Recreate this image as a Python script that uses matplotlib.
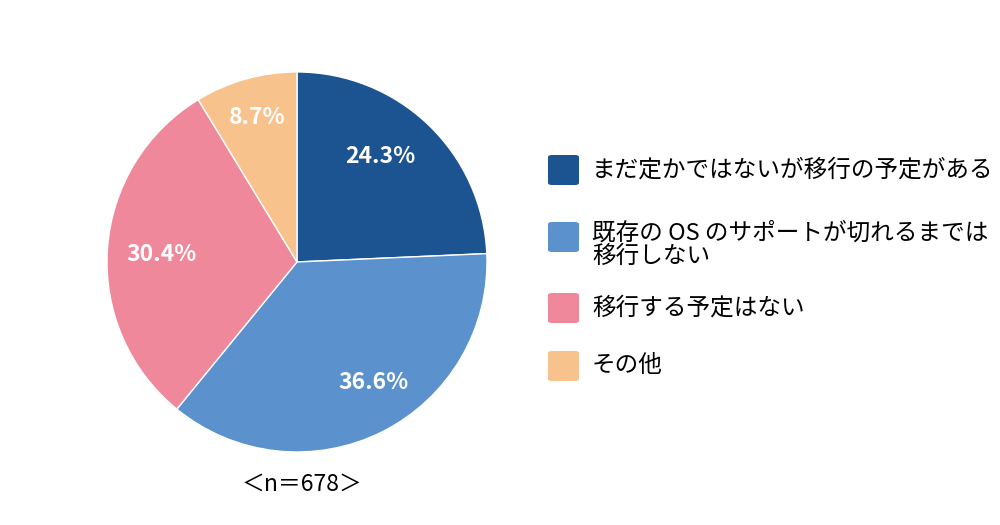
import matplotlib
matplotlib.use("Agg")
import matplotlib.pyplot as plt
from matplotlib.patches import FancyBboxPatch

plt.rcParams['font.family'] = ['Noto Sans CJK JP', 'DejaVu Sans']

labels = [
    "まだ定かではないが移行の予定がある",
    "既存の OS のサポートが切れるまでは\n移行しない",
    "移行する予定はない",
    "その他",
]
shares = [24.3, 36.6, 30.4, 8.7]
colors = ["#1B5490", "#5B91CC", "#F0889B", "#F8C28D"]
n_label = "＜n＝678＞"

# where the percentage labels sit inside each wedge (unit-radius coords)
pct_pos = [(0.437, 0.553), (0.40, -0.632), (-0.711, 0.037), (-0.21, 0.758)]

fig = plt.figure(figsize=(10, 5.25), dpi=100)
ax = fig.add_axes([0.107, 0.139, 0.38, 0.724])

wedges, texts, autotexts = ax.pie(
    shares, colors=colors, startangle=90, counterclock=False,
    autopct="%.1f%%", pctdistance=0.73,
    wedgeprops=dict(edgecolor="white", linewidth=1),
    textprops=dict(color="white", fontsize=16.5, fontweight="bold"),
)
for t, pos in zip(autotexts, pct_pos):
    t.set_position(pos)
ax.set_xlim(-1, 1)
ax.set_ylim(-1, 1)
ax.set_aspect("equal")

# legend drawn by hand: rounded squares with text beside them
rows_y = [170, 237, 308, 366]  # pixel centres from top
for lab, col, yc in zip(labels, colors, rows_y):
    yf = 1 - yc / 525
    box = FancyBboxPatch((548 / 1000, yf - 15 / 525), 31 / 1000, 30 / 525,
                         boxstyle="round,pad=0,rounding_size=0.004",
                         transform=fig.transFigure, facecolor=col,
                         edgecolor="none")
    fig.patches.append(box)
    if "\n" in lab:
        fig.text(592 / 1000, yf + 15 / 525, lab, fontsize=17, va="top",
                 ha="left", linespacing=0.98)
    else:
        fig.text(592 / 1000, yf, lab, fontsize=17, va="center", ha="left")

fig.text(302 / 1000, 1 - 484 / 525, n_label, fontsize=16.5, ha="center",
         va="center")

fig.savefig("out.png", dpi=100)
